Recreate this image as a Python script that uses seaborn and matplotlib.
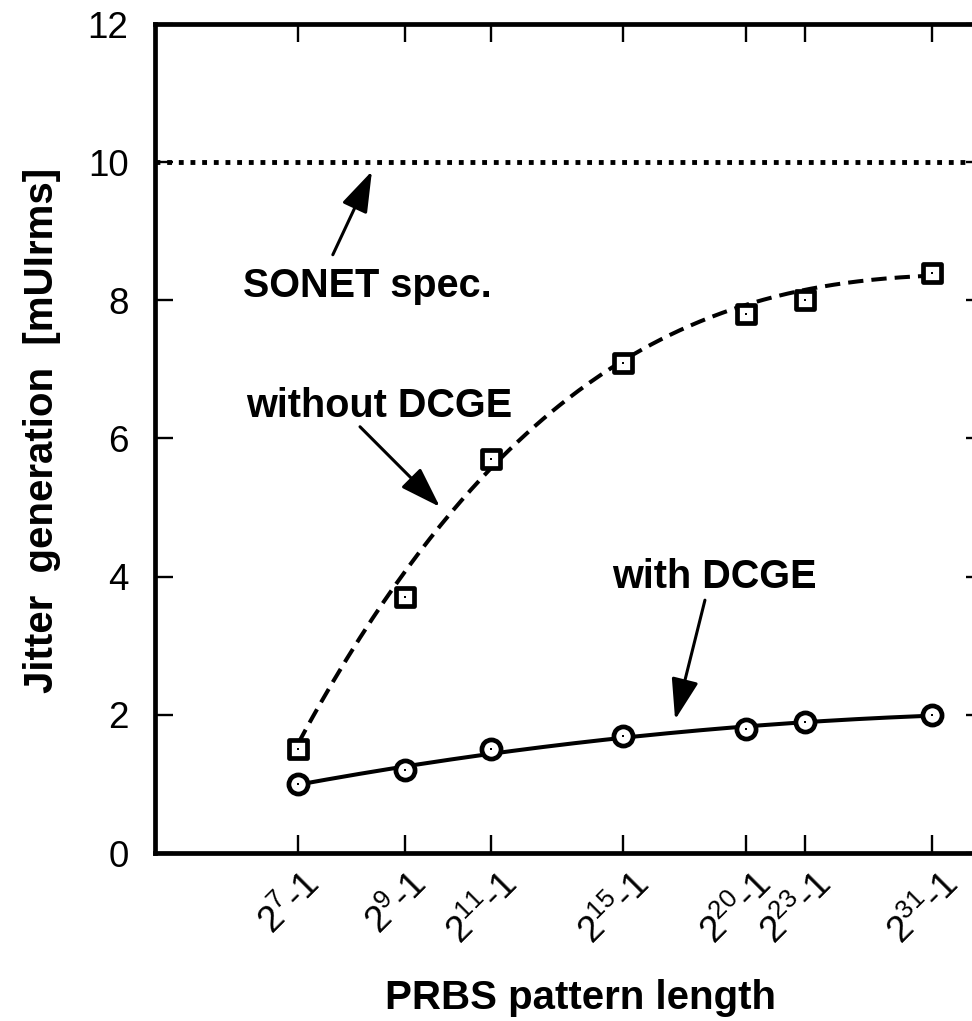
import numpy as np
import pandas as pd
import matplotlib
matplotlib.use("Agg")
import matplotlib.pyplot as plt
from matplotlib.ticker import NullLocator, FixedLocator, FixedFormatter
from matplotlib.transforms import ScaledTranslation
import seaborn as sns

# ---------------- data ----------------
exponents = [7, 9, 11, 15, 20, 23, 31]
tick_labels = [r"$\mathregular{2^{%d}}$-1" % e for e in exponents]
without_dcge = [1.5, 3.7, 5.7, 7.1, 7.8, 8.0, 8.4]
with_dcge = [1.0, 1.2, 1.5, 1.7, 1.8, 1.9, 2.0]
# trend curves (at the same pattern lengths)
without_trend = [1.66, 3.85, 5.75, 7.16, 7.89, 8.12, 8.38]
with_trend = [1.0, 1.22, 1.46, 1.68, 1.81, 1.90, 1.99]
sonet_spec = 10

# ---------------- style ----------------
sns.set_theme(style="ticks")
plt.rcParams["font.family"] = ["Liberation Sans", "DejaVu Sans"]
plt.rcParams["mathtext.fontset"] = "custom"
plt.rcParams["mathtext.rm"] = "Liberation Sans"
plt.rcParams["mathtext.it"] = "Liberation Sans:italic"
plt.rcParams["mathtext.bf"] = "Liberation Sans:bold"
plt.rcParams["text.color"] = "black"
plt.rcParams["axes.labelcolor"] = "black"
plt.rcParams["xtick.color"] = "black"
plt.rcParams["ytick.color"] = "black"

fig = plt.figure(figsize=(9.72, 10.21), dpi=100)
W, H = 972, 1021
ax = fig.add_axes([155 / W, 1 - 853 / H, 829 / W, 829 / H])

# smooth trend curves (polynomial fit in log of exponent)
lx = np.log(exponents)
dense = np.linspace(min(exponents), max(exponents), 200)

def smooth(vals):
    coef = np.polyfit(lx, vals, 3)
    return np.polyval(coef, np.log(dense))

df_wo = pd.DataFrame({"x": dense, "y": smooth(without_trend)})
df_w = pd.DataFrame({"x": dense, "y": smooth(with_trend)})

sns.lineplot(data=df_wo, x="x", y="y", ax=ax, color="black", lw=2.9, sort=True)
ax.lines[-1].set_dashes((3.8, 2.0))
sns.lineplot(data=df_w, x="x", y="y", ax=ax, color="black", lw=2.9, sort=True)

ax.axhline(sonet_spec, color="black", lw=3.5, linestyle=(0, (1.0, 1.4)),
           dash_capstyle="butt")

pts = pd.DataFrame({"x": exponents, "wo": without_dcge, "w": with_dcge})
sns.scatterplot(data=pts, x="x", y="wo", ax=ax, marker="s", s=185,
                facecolor="white", edgecolor="black", linewidth=3.4, zorder=5)
sns.scatterplot(data=pts, x="x", y="w", ax=ax, marker="o", s=190,
                facecolor="white", edgecolor="black", linewidth=3.4, zorder=5)
sns.scatterplot(data=pts, x="x", y="wo", ax=ax, marker="s", s=3,
                color="black", linewidth=0, zorder=6)
sns.scatterplot(data=pts, x="x", y="w", ax=ax, marker="s", s=3,
                color="black", linewidth=0, zorder=6)

# ---------------- axes ----------------
ax.set_xscale("log")
ax.set_xlim(5, 35)
ax.set_ylim(0, 12)
ax.xaxis.set_major_locator(FixedLocator(exponents))
ax.xaxis.set_major_formatter(FixedFormatter(tick_labels))
ax.xaxis.set_minor_locator(NullLocator())
ax.set_yticks([0, 2, 4, 6, 8, 10, 12])

for s in ax.spines.values():
    s.set_linewidth(3.4)
    s.set_color("black")

ax.tick_params(axis="both", which="major", direction="in", length=13,
               width=1.7, color="black", top=True, right=True,
               labelsize=26.5, labelcolor="black")
ax.tick_params(axis="y", pad=19)
ax.tick_params(axis="x", pad=10)
shift = ScaledTranslation(-6 / 72, 0, fig.dpi_scale_trans)
for lab in ax.get_xticklabels():
    lab.set_rotation(45)
    lab.set_ha("center")
    lab.set_va("top")
    lab.set_transform(lab.get_transform() + shift)

ax.set_xlabel("PRBS pattern length", fontsize=29, fontweight="bold", va="top")
ax.xaxis.set_label_coords(0.5127, -0.152)
ax.set_ylabel("Jitter  generation  [mUIrms]", fontsize=29, fontweight="bold")
ax.yaxis.set_label_coords(-0.113, 0.51)

# ---------------- annotations ----------------
arrow = dict(arrowstyle="-|>,head_length=1.2,head_width=0.4", color="black",
             lw=2.2, mutation_scale=21, shrinkA=0, shrinkB=0)
ax.text(8.24, 8.05, "SONET spec.", fontsize=28.5, fontweight="bold",
        ha="center", va="baseline")
ax.annotate("", xy=(8.32, 9.87), xytext=(7.59, 8.66), arrowprops=arrow)
ax.text(8.47, 6.31, "without DCGE", fontsize=28.5, fontweight="bold",
        ha="center", va="baseline")
ax.annotate("", xy=(9.76, 5.01), xytext=(8.09, 6.17), arrowprops=arrow)
ax.text(18.57, 3.84, "with DCGE", fontsize=28.5, fontweight="bold",
        ha="center", va="baseline")
ax.annotate("", xy=(16.95, 1.93), xytext=(18.18, 3.66), arrowprops=arrow)

fig.savefig("out.png", dpi=100)
